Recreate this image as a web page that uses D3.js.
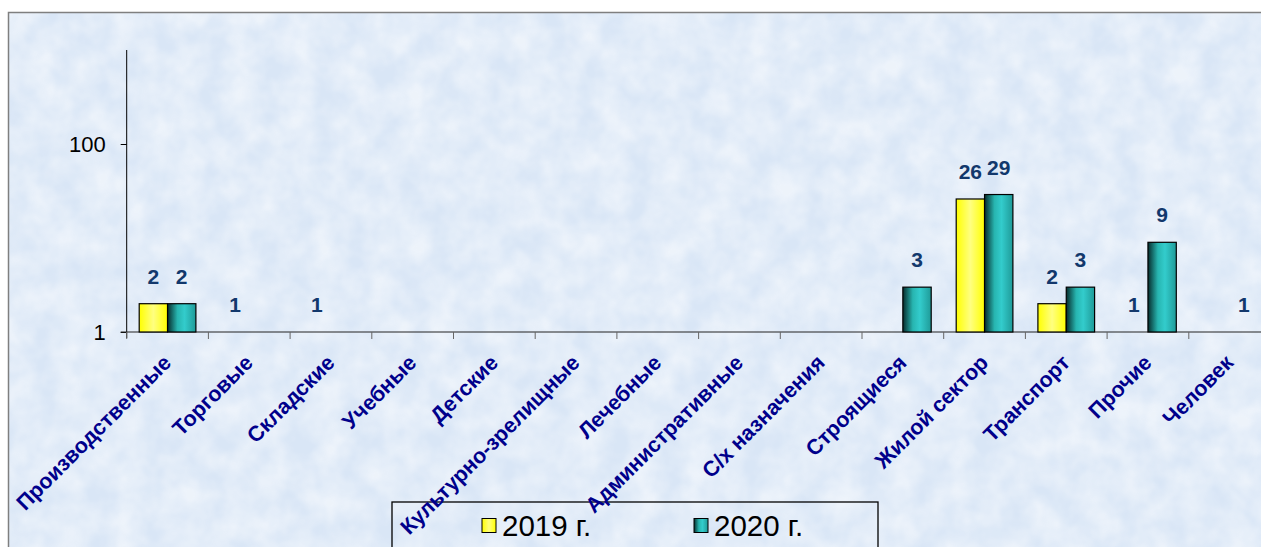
<!DOCTYPE html>
<html>
<head>
<meta charset="utf-8">
<script src="https://cdn.jsdelivr.net/npm/d3@7"></script>
<style>
  body { margin: 0; background: #fff; }
  svg { display: block; font-family: Arial, "Liberation Sans", sans-serif; }
</style>
</head>
<body>
<svg id="chart"></svg>
<script>
const CATEGORIES = [
  "Производственные",
  "Торговые",
  "Складские",
  "Учебные",
  "Детские",
  "Культурно-зрелищные",
  "Лечебные",
  "Административные",
  "С/х назначения",
  "Строящиеся",
  "Жилой сектор",
  "Транспорт",
  "Прочие",
  "Человек",
];
const SERIES = ["2019 г.", "2020 г."];
const VALUES_2019 = [2, 1, 1, null, null, null, null, null, null, null, 26, 2, 1, null];
const VALUES_2020 = [2, null, null, null, null, null, null, null, null, 3, 29, 3, 9, 1];
const Y_TICKS = [1, 100];

const width = 1261;
const height = 547;
const marginLeft = 126.7;
const plotRight = 1270.5;
const axisY = 332;
const plotTop = 50;

const svg = d3.select("#chart").attr("width", width).attr("height", height);
const defs = svg.append("defs");

// фон с лёгкой текстурой
const tex = defs.append("filter").attr("id", "tex").attr("x", 0).attr("y", 0).attr("width", 1).attr("height", 1);
tex.append("feTurbulence").attr("type", "fractalNoise").attr("baseFrequency", 0.035).attr("numOctaves", 3).attr("seed", 4);
tex.append("feColorMatrix").attr("values", "0 0 0 0 1  0 0 0 0 1  0 0 0 0 1  0 0 0 -1.6 1.25");

const yellowGrad = defs.append("linearGradient").attr("id", "gYellow");
yellowGrad.append("stop").attr("offset", "0%").attr("stop-color", "#ffff00");
yellowGrad.append("stop").attr("offset", "50%").attr("stop-color", "#ffff80");
yellowGrad.append("stop").attr("offset", "100%").attr("stop-color", "#ffff00");

const tealGrad = defs.append("linearGradient").attr("id", "gTeal");
tealGrad.append("stop").attr("offset", "0%").attr("stop-color", "#062c2c");
tealGrad.append("stop").attr("offset", "35%").attr("stop-color", "#27b5b0");
tealGrad.append("stop").attr("offset", "60%").attr("stop-color", "#33cccc");
tealGrad.append("stop").attr("offset", "100%").attr("stop-color", "#1f9a98");

const fills = ["url(#gYellow)", "url(#gTeal)"];

svg.append("rect").attr("width", width).attr("height", height).attr("fill", "#fff");
svg.append("rect").attr("x", 8).attr("y", 12).attr("width", width).attr("height", height)
  .attr("fill", "#d9e6f6");
svg.append("rect").attr("x", 8).attr("y", 12).attr("width", width).attr("height", height)
  .attr("filter", "url(#tex)").attr("opacity", 0.55);
svg.append("rect").attr("x", 8.5).attr("y", 12.5).attr("width", width).attr("height", height)
  .attr("fill", "none").attr("stroke", "#7f7f7f").attr("stroke-width", 1.5);

const x0 = d3.scaleBand().domain(CATEGORIES).range([marginLeft, plotRight]);
const x1 = d3.scaleBand().domain(SERIES).range([0, x0.bandwidth()]).paddingOuter(0.441);
const y = d3.scaleLog().domain([1, 1000]).range([axisY, plotTop]);

const rows = CATEGORIES.map((c, i) => ({ c, vals: [VALUES_2019[i], VALUES_2020[i]] }));

// легенда (подписи категорий рисуются поверх)
const legend = svg.append("g").attr("transform", "translate(392,502)");
legend.append("rect").attr("width", 486).attr("height", 60)
  .attr("fill", "none").attr("stroke", "#000").attr("stroke-width", 1.3);
const legendX = [90, 302];
SERIES.forEach((s, i) => {
  legend.append("rect").attr("x", legendX[i]).attr("y", 16.5).attr("width", 14).attr("height", 14)
    .attr("fill", fills[i]).attr("stroke", "#000").attr("stroke-width", 1);
  legend.append("text").attr("x", legendX[i] + 20).attr("y", 34)
    .attr("font-size", 29.5).attr("fill", "#000").text(s);
});

// оси
const yAxis = svg.append("g")
  .attr("transform", `translate(${marginLeft},0)`)
  .call(d3.axisLeft(y).tickValues(Y_TICKS).tickFormat(d3.format("d")).tickSize(6).tickPadding(15));
yAxis.select(".domain").attr("d", `M0,${plotTop}V${axisY + 6}`).attr("stroke", "#000");
yAxis.selectAll("text").attr("font-size", 22).attr("fill", "#000").attr("font-family", "Arial, sans-serif");
yAxis.selectAll(".tick line").attr("stroke", "#000");

const xAxis = svg.append("g").attr("transform", `translate(0,${axisY})`);
xAxis.append("line").attr("x1", marginLeft - 6).attr("x2", width).attr("stroke", "#222");
xAxis.selectAll("line.tick")
  .data(CATEGORIES.concat([null]))
  .join("line")
  .attr("class", "tick")
  .attr("x1", (d, i) => marginLeft + i * x0.step())
  .attr("x2", (d, i) => marginLeft + i * x0.step())
  .attr("y1", 0).attr("y2", 7)
  .attr("stroke", "#666");

// столбцы
const groups = svg.append("g").selectAll("g").data(rows).join("g")
  .attr("transform", (d) => `translate(${x0(d.c)},0)`);

groups.selectAll("rect")
  .data((d) => d.vals.map((v, i) => ({ v, s: SERIES[i], i })).filter((e) => e.v !== null && e.v > 1))
  .join("rect")
  .attr("x", (e) => x1(e.s))
  .attr("width", x1.bandwidth())
  .attr("y", (e) => y(e.v))
  .attr("height", (e) => y(1) - y(e.v))
  .attr("fill", (e) => fills[e.i])
  .attr("stroke", "#000")
  .attr("stroke-width", 1.2);

groups.selectAll("text")
  .data((d) => d.vals.map((v, i) => ({ v, s: SERIES[i] })).filter((e) => e.v !== null))
  .join("text")
  .attr("x", (e) => x1(e.s) + x1.bandwidth() / 2)
  .attr("y", (e) => y(e.v) - 20)
  .attr("text-anchor", "middle")
  .attr("font-size", 21)
  .attr("font-weight", "bold")
  .attr("fill", "#12386c")
  .text((e) => e.v);

// подписи категорий
svg.append("g").selectAll("text").data(CATEGORIES).join("text")
  .attr("transform", (d) => `translate(${x0(d) + x0.bandwidth() / 2 + 5},${axisY + 32}) rotate(-45)`)
  .attr("text-anchor", "end")
  .attr("font-size", 21.5)
  .attr("font-weight", "bold")
  .attr("fill", "#00008b")
  .text((d) => d);
</script>
</body>
</html>
